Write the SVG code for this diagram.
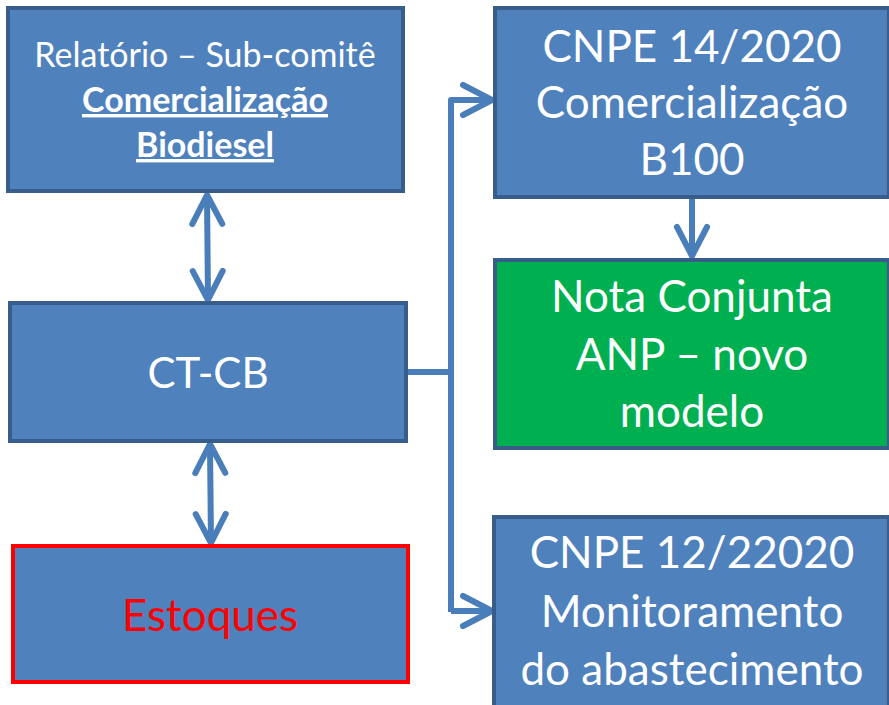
<svg xmlns="http://www.w3.org/2000/svg" width="889" height="705" viewBox="0 0 889 705">
<style>
.box{fill:#4F81BD;stroke:#385D8A;stroke-width:4}
.green{fill:#00B050;stroke:#385D8A;stroke-width:4}
.red{fill:#4F81BD;stroke:#FF0000;stroke-width:4}
text{font-family:Lato,"Open Sans",sans-serif;fill:#FFFFFF;text-anchor:middle}
.s{font-size:34px}
.b{font-size:34px;font-weight:bold;text-decoration:underline}
.l{font-size:44px}
.m{font-size:42px}
.conn{fill:none;stroke:#4A7EBB;stroke-width:6;stroke-linejoin:round}
</style>
<defs>
<marker id="ah" markerUnits="userSpaceOnUse" viewBox="-40 -20 44 40" refX="0" refY="0" markerWidth="44" markerHeight="40" orient="auto-start-reverse">
<path d="M-29,-15 L0,0 L-29,15" fill="none" stroke="#4A7EBB" stroke-width="6" stroke-linecap="round" stroke-linejoin="round"/>
</marker>
</defs>
<g id="connectors">
<path class="conn" d="M207,195 L208,300" marker-start="url(#ah)" marker-end="url(#ah)"/>
<path class="conn" d="M210,444 L211,543" marker-start="url(#ah)" marker-end="url(#ah)"/>
<path class="conn" d="M406,372 L451,372"/>
<path class="conn" d="M451,612 L451,100 L492,100" marker-end="url(#ah)"/>
<path class="conn" d="M451,611 L492,611" marker-end="url(#ah)"/>
<path class="conn" d="M692,199 L692,256" marker-end="url(#ah)"/>
</g>
<g id="node-relatorio">
<rect class="box" x="8" y="8" width="395" height="183"/>
<text class="s" x="205" y="67">Relatório – Sub-comitê</text>
<text class="b" x="205" y="112">Comercialização</text>
<text class="b" x="205" y="157">Biodiesel</text>
</g>
<g id="node-ctcb">
<rect class="box" x="10" y="303" width="396" height="138"/>
<text class="m" x="208" y="388">CT-CB</text>
</g>
<g id="node-estoques">
<rect class="red" x="13" y="546" width="395" height="136"/>
<text class="l" x="210" y="631" style="fill:#FF0000">Estoques</text>
</g>
<g id="node-cnpe14">
<rect class="box" x="495" y="8" width="394" height="189"/>
<text class="l" x="692" y="62">CNPE 14/2020</text>
<text class="l" x="692" y="118">Comercialização</text>
<text class="l" x="692" y="175">B100</text>
</g>
<g id="node-nota">
<rect class="green" x="495" y="260" width="394" height="188"/>
<text class="l" x="692" y="312">Nota Conjunta</text>
<text class="l" x="692" y="370">ANP – novo</text>
<text class="l" x="692" y="427">modelo</text>
</g>
<g id="node-cnpe12">
<rect class="box" x="494" y="517" width="395" height="190"/>
<text class="l" x="692" y="568">CNPE 12/22020</text>
<text class="l" x="692" y="627">Monitoramento</text>
<text class="l" x="692" y="685">do abastecimento</text>
</g>
</svg>
